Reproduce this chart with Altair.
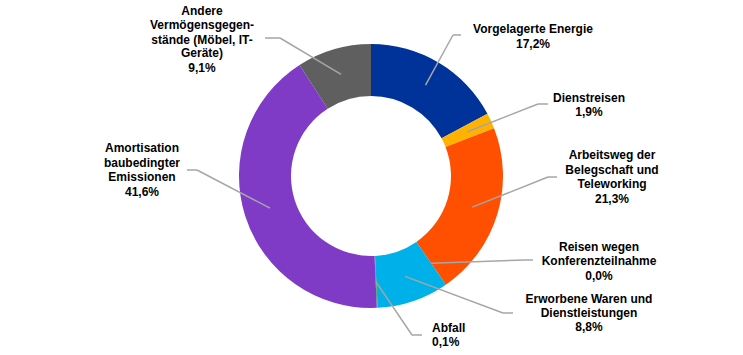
import math
import pandas as pd
import altair as alt

# ---- data ----
categories = [
    "Vorgelagerte Energie",
    "Dienstreisen",
    "Arbeitsweg der Belegschaft und Teleworking",
    "Reisen wegen Konferenzteilnahme",
    "Erworbene Waren und Dienstleistungen",
    "Abfall",
    "Amortisation baubedingter Emissionen",
    "Andere Vermögensgegenstände (Möbel, IT-Geräte)",
]
values = [17.2, 1.9, 21.3, 0.0, 8.8, 0.1, 41.6, 9.1]
colors = ["#003399", "#FFB300", "#FF4F00", "#A6A6A6", "#00B0E8", "#3CA03C", "#7F3BC5", "#5F5F5F"]
label_lines = [
    ["Vorgelagerte Energie"],
    ["Dienstreisen"],
    ["Arbeitsweg der", "Belegschaft und", "Teleworking"],
    ["Reisen wegen", "Konferenzteilnahme"],
    ["Erworbene Waren und", "Dienstleistungen"],
    ["Abfall"],
    ["Amortisation", "baubedingter", "Emissionen"],
    ["Andere", "Vermögensgegen-", "stände (Möbel, IT-", "Geräte)"],
]

# ---- layout (pixels) ----
CX, CY = 371, 176
R_OUT, R_IN = 132, 80
R_ANCHOR = 106
label_x = [533, 589, 612, 599, 589, 432, 142, 202]
label_y = [[29, 44], [98, 112], [155, 170, 184, 199], [247, 261, 276], [299, 313, 327],
           [328, 342], [148, 163, 177, 192], [11, 25, 40, 53, 68]]
label_align = ["center", "center", "center", "center", "center", "left", "center", "center"]
elbows = [(453, 35), (538, 104), (548, 177), (525, 260), (503, 313), (412, 335), (197, 170), (280, 38)]
ends = [(461, 35), (548, 104), (557, 177), (533, 260), (513, 313), (422, 335), (187, 170), (265, 38)]

total = sum(values)
arc_df = pd.DataFrame({"cat": categories, "value": values, "idx": list(range(len(values)))})

# leader line segments from slice mid-angle
segs = []
cum = 0.0
for i, v in enumerate(values):
    mid = (cum + v / 2) / total * 2 * math.pi
    cum += v
    ax = CX + R_ANCHOR * math.sin(mid)
    ay = CY - R_ANCHOR * math.cos(mid)
    ex, ey = elbows[i]
    tx, ty = ends[i]
    segs.append({"x": ax, "y": ay, "x2": ex, "y2": ey})
    segs.append({"x": ex, "y": ey, "x2": tx, "y2": ty})
seg_df = pd.DataFrame(segs)

rows = []
for i, v in enumerate(values):
    lines = label_lines[i] + [f"{v:.1f}%".replace(".", ",")]
    for j, t in enumerate(lines):
        rows.append({"t": t, "x": label_x[i], "y": label_y[i][j], "align": label_align[i]})
txt_df = pd.DataFrame(rows)

arc = alt.Chart(arc_df).mark_arc(outerRadius=R_OUT, innerRadius=R_IN).encode(
    theta=alt.Theta("value:Q", stack=True),
    order=alt.Order("idx:Q"),
    color=alt.Color("cat:N", scale=alt.Scale(domain=categories, range=colors), legend=None),
    x=alt.value(CX),
    y=alt.value(CY),
)

lines_layer = alt.Chart(seg_df).mark_rule(color="#A6A6A6", strokeWidth=1.5).encode(
    x=alt.X("x:Q", scale=None),
    y=alt.Y("y:Q", scale=None),
    x2="x2:Q",
    y2="y2:Q",
)

text_c = alt.Chart(txt_df[txt_df["align"] == "center"]).mark_text(
    font="Liberation Sans", fontSize=12, fontWeight="bold", color="#000000",
    align="center", baseline="middle",
).encode(x=alt.X("x:Q", scale=None), y=alt.Y("y:Q", scale=None), text="t:N")

text_l = alt.Chart(txt_df[txt_df["align"] == "left"]).mark_text(
    font="Liberation Sans", fontSize=12, fontWeight="bold", color="#000000",
    align="left", baseline="middle",
).encode(x=alt.X("x:Q", scale=None), y=alt.Y("y:Q", scale=None), text="t:N")

chart = alt.layer(arc, lines_layer, text_c, text_l).properties(
    width=743, height=355, padding=0, autosize="none", background="#FFFFFF"
).configure_view(stroke=None)

chart.save("out.html", embed_options={"renderer": "svg", "actions": False})
